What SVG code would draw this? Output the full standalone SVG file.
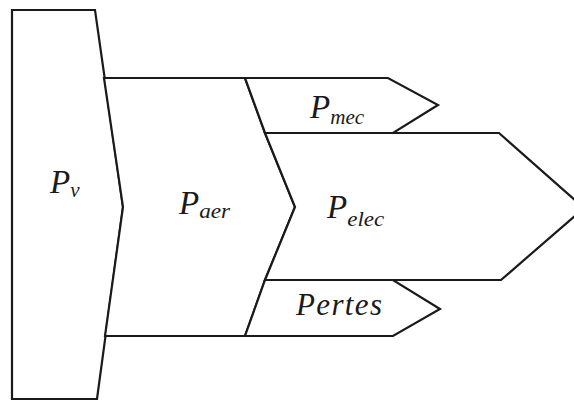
<svg xmlns="http://www.w3.org/2000/svg" width="574" height="403" viewBox="0 0 574 403">
<style>
.b{fill:#fff;stroke:#1a1a1a;stroke-width:2.2;stroke-linejoin:miter}
.t{font-family:"Liberation Serif","Times New Roman",serif;font-style:italic;fill:#1a1a1a}
.m{font-size:33px}
.s{font-size:21px}
</style>
<rect width="574" height="403" fill="#fff"/>
<g id="Pv">
<polygon class="b" points="12,10 95,10 123,207 97,399 12,399"/>
<text class="t m" x="50" y="193">P<tspan class="s" dx="0" dy="4">v</tspan></text>
</g>
<g id="Paer">
<polygon class="b" points="104,78 245,78 265,133 295,207 265,280 245,336 105,336 123,207"/>
<text class="t m" x="179" y="214">P<tspan class="s" dx="0" dy="4" textLength="31" lengthAdjust="spacingAndGlyphs">aer</tspan></text>
</g>
<g id="Pmec">
<polygon class="b" points="245,78 388,78 438,105 393,133 265,133"/>
<text class="t m" x="310" y="118">P<tspan class="s" dx="0" dy="6" textLength="34" lengthAdjust="spacingAndGlyphs">mec</tspan></text>
</g>
<g id="Pelec">
<polygon class="b" points="265,133 499,133 584,208 501,280 265,280 295,207"/>
<text class="t m" x="327" y="218">P<tspan class="s" dx="0" dy="8" textLength="37" lengthAdjust="spacingAndGlyphs">elec</tspan></text>
</g>
<g id="Pertes">
<polygon class="b" points="265,280 393,280 440,309 393,336 245,336"/>
<text class="t" style="font-size:31px" x="296" y="315" textLength="86" lengthAdjust="spacing">Pertes</text>
</g>
<g id="connectors"/>
</svg>
